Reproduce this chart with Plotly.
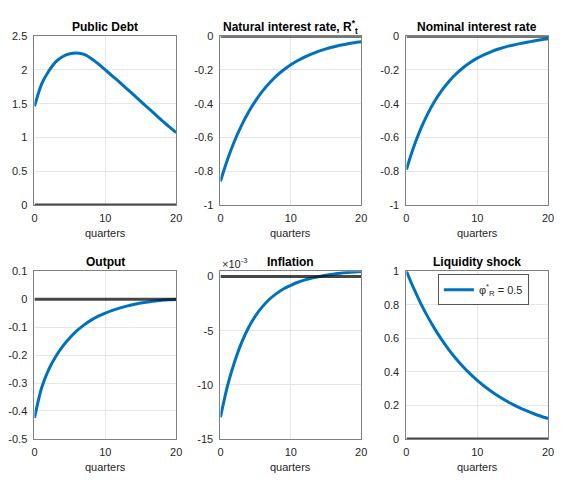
import plotly.graph_objects as go

# Impulse responses, horizon in quarters
quarters = list(range(21))

public_debt = [1.46, 1.79, 1.98, 2.12, 2.20, 2.24, 2.25, 2.23, 2.17, 2.09, 2.00,
               1.91, 1.82, 1.725, 1.63, 1.535, 1.44, 1.345, 1.25, 1.16, 1.07]
natural_rate = [-0.86, -0.731, -0.621, -0.528, -0.449, -0.382, -0.324, -0.276, -0.234, -0.199, -0.169,
                -0.144, -0.122, -0.104, -0.088, -0.075, -0.064, -0.054, -0.046, -0.039, -0.033]
nominal_rate = [-0.79, -0.66, -0.551, -0.46, -0.384, -0.321, -0.268, -0.224, -0.187, -0.156, -0.130,
                -0.109, -0.091, -0.076, -0.063, -0.053, -0.044, -0.036, -0.028, -0.021, -0.015]
output = [-0.425, -0.318, -0.252, -0.205, -0.168, -0.138, -0.113, -0.092, -0.075, -0.061, -0.05,
          -0.04, -0.032, -0.025, -0.019, -0.014, -0.01, -0.007, -0.004, -0.002, -0.001]
inflation = [-0.0130, -0.0101, -0.0079, -0.0061, -0.0047, -0.0036, -0.00275, -0.00207, -0.00155, -0.00112, -0.00080,
             -0.00052, -0.00030, -0.00013, 0.0, 0.00012, 0.00022, 0.00031, 0.00038, 0.00043, 0.00047]
liquidity = [1.0, 0.9, 0.81, 0.729, 0.6561, 0.5905, 0.5314, 0.4783, 0.4305, 0.3874, 0.3487,
             0.3138, 0.2824, 0.2542, 0.2288, 0.2059, 0.1853, 0.1668, 0.1501, 0.1351, 0.1216]
baseline = [0.0] * 21

titles = ["Public Debt", "Natural interest rate, R<sup>*</sup><sub>t</sub>", "Nominal interest rate",
          "Output", "Inflation", "Liquidity shock"]
series = [public_debt, natural_rate, nominal_rate, output, inflation, liquidity]

x_ticks = [0, 10, 20]
x_ticklabels = ["0", "10", "20"]

y_ranges = [[0, 2.5], [-1, 0], [-1, 0], [-0.5, 0.1], [-0.015, 0.0005], [0, 1]]
y_ticks = [
    [0, 0.5, 1, 1.5, 2, 2.5],
    [-1, -0.8, -0.6, -0.4, -0.2, 0],
    [-1, -0.8, -0.6, -0.4, -0.2, 0],
    [-0.5, -0.4, -0.3, -0.2, -0.1, 0, 0.1],
    [-0.015, -0.01, -0.005, 0],
    [0, 0.2, 0.4, 0.6, 0.8, 1],
]
y_ticklabels = [
    ["0", "0.5", "1", "1.5", "2", "2.5"],
    ["-1", "-0.8", "-0.6", "-0.4", "-0.2", "0"],
    ["-1", "-0.8", "-0.6", "-0.4", "-0.2", "0"],
    ["-0.5", "-0.4", "-0.3", "-0.2", "-0.1", "0", "0.1"],
    ["-15", "-10", "-5", "0"],
    ["0", "0.2", "0.4", "0.6", "0.8", "1"],
]

legend_label = "φ<sup>*</sup><sub>R</sub> = 0.5"

W, H = 562, 480
col_px = [(32, 176), (221, 364), (410, 554)]
row_px = [(31, 204), (272, 444)]

BLUE = "#0072BD"
FONT = "Liberation Sans, Arial, Helvetica, sans-serif"
TXT = "#262626"

fig = go.Figure()
layout = dict(
    width=W, height=H, autosize=False,
    margin=dict(l=0, r=0, t=0, b=0),
    paper_bgcolor="white", plot_bgcolor="white",
    font=dict(family=FONT, size=11, color=TXT),
    showlegend=True,
    legend=dict(
        x=442 / W, y=1 - 275 / H, xanchor="left", yanchor="top",
        bgcolor="white", bordercolor="#555555", borderwidth=1,
        font=dict(family=FONT, size=11, color=TXT),
        itemwidth=30, tracegroupgap=0,
    ),
)
annotations = []

for i in range(6):
    r, c = divmod(i, 3)
    n = "" if i == 0 else str(i + 1)
    x0, x1 = col_px[c]
    top, bot = row_px[r]
    layout["xaxis" + n] = dict(
        domain=[x0 / W, x1 / W], range=[0, 20], anchor="y" + n,
        tickvals=x_ticks, ticktext=x_ticklabels,
        showgrid=True, gridcolor="#e6e6e6", gridwidth=1,
        showline=True, mirror=True, linecolor="#808080", linewidth=1,
        zeroline=False, ticks="", ticklabelstandoff=3,
        tickfont=dict(family=FONT, size=11, color=TXT),
    )
    layout["yaxis" + n] = dict(
        domain=[1 - bot / H, 1 - top / H], range=y_ranges[i], anchor="x" + n,
        tickvals=y_ticks[i], ticktext=y_ticklabels[i],
        showgrid=True, gridcolor="#e6e6e6", gridwidth=1,
        showline=True, mirror=True, linecolor="#808080", linewidth=1,
        zeroline=False, ticks="", ticklabelstandoff=4,
        tickfont=dict(family=FONT, size=11, color=TXT),
    )

    fig.add_trace(go.Scatter(
        x=quarters, y=series[i], mode="lines",
        line=dict(color=BLUE, width=3, shape="spline", smoothing=0.8),
        name=legend_label, showlegend=(i == 5),
        xaxis="x" + n, yaxis="y" + n,
    ))
    fig.add_trace(go.Scatter(
        x=quarters, y=baseline, mode="lines",
        line=dict(color="rgba(20,20,20,0.78)", width=3),
        showlegend=False, hoverinfo="skip",
        xaxis="x" + n, yaxis="y" + n,
    ))

    # panel title
    annotations.append(dict(
        text="<b>" + titles[i] + "</b>", x=(x0 + x1) / 2 / W, y=1 - (top - 9) / H,
        xref="paper", yref="paper", xanchor="center", yanchor="middle",
        showarrow=False, font=dict(family=FONT, size=12, color="black"),
    ))
    # horizontal axis label
    annotations.append(dict(
        text="quarters", x=(x0 + x1) / 2 / W, y=1 - (bot + 29) / H,
        xref="paper", yref="paper", xanchor="center", yanchor="middle",
        showarrow=False, font=dict(family=FONT, size=11, color=TXT),
    ))

# exponent marker on the inflation axis
annotations.append(dict(
    text="×10<sup>-3</sup>", x=col_px[1][0] / W, y=1 - 264 / H,
    xref="paper", yref="paper", xanchor="left", yanchor="middle",
    showarrow=False, font=dict(family=FONT, size=11, color=TXT),
))

layout["annotations"] = annotations
fig.update_layout(**layout)
fig.write_html("out.html")
